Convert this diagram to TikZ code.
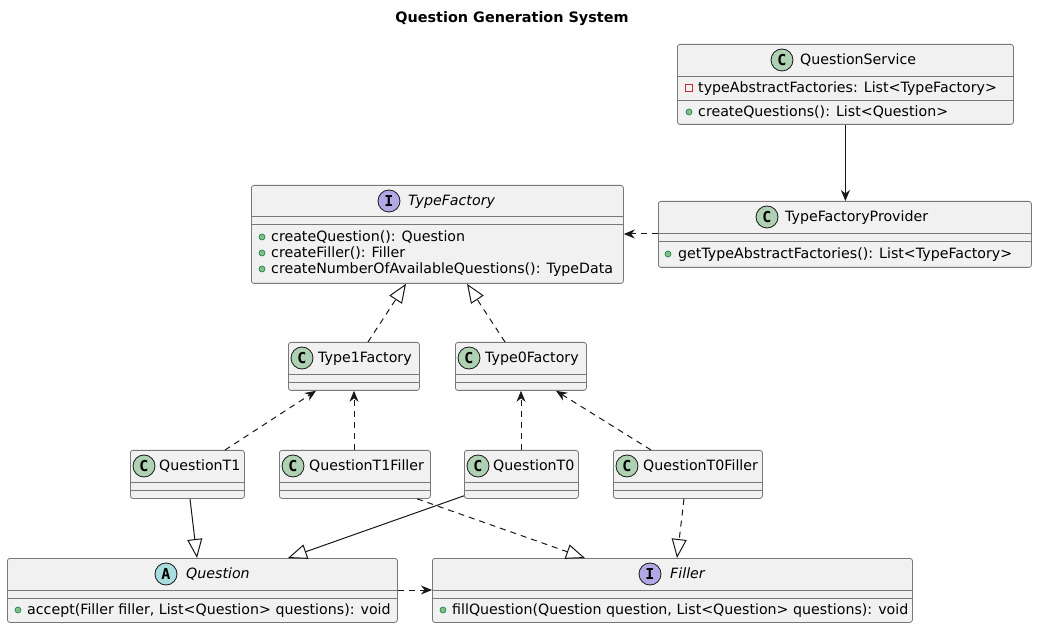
\documentclass[tikz,border=0pt]{standalone}
\usepackage{fontspec}
\setmainfont{DejaVu Sans}
\newfontfamily\iconfont{DejaVu Sans Mono}
\usetikzlibrary{arrows.meta,calc}
\definecolor{boxfill}{HTML}{F1F1F1}
\definecolor{boxline}{HTML}{181818}
\definecolor{sepline}{HTML}{787878}
\definecolor{cgreen}{HTML}{ADD1B2}
\definecolor{ipurple}{HTML}{B4A7E5}
\definecolor{acyan}{HTML}{A9DCDF}
\definecolor{pubfill}{HTML}{84BE84}
\definecolor{publine}{HTML}{038048}
\definecolor{privline}{HTML}{C82930}
\tikzset{
  umlbox/.style={draw=sepline, fill=boxfill, rounded corners=2.5pt, line width=0.8pt, anchor=north west, inner sep=0pt},
  icon/.style={circle, draw=boxline, line width=0.8pt, minimum size=22pt, inner sep=0pt, font=\iconfont\bfseries\fontsize{15}{15}\selectfont},
  cname/.style={anchor=mid west, inner sep=0pt, font=\fontsize{14.2}{17}\selectfont},
  aname/.style={cname, font=\fontsize{14.2}{17}\selectfont\itshape},
  member/.style={anchor=mid west, inner sep=0pt, font=\fontsize{14.2}{17}\selectfont},
  pub/.style={circle, draw=publine, fill=pubfill, line width=0.6pt, minimum size=6pt, inner sep=0pt},
  priv/.style={rectangle, draw=privline, line width=0.8pt, minimum size=7pt, inner sep=0pt},
  sep/.style={draw=sepline, line width=0.8pt},
  conn/.style={draw=boxline, line width=1pt},
  dashconn/.style={conn, dash pattern=on 6pt off 5pt},
  arr/.style={-{Stealth[length=11pt,width=9pt,inset=3.5pt]}},
  inh/.style={-{Triangle[length=19pt,width=15pt,fill=white,line width=1pt]}},
}
\begin{document}
\begin{tikzpicture}[x=1pt,y=-1pt]
\useasboundingbox (0,0) rectangle (1037,628);
\fill[white] (0,0) rectangle (1037,628);

\node[font=\fontsize{14.4}{17}\selectfont\bfseries] (title) at (512,19) {Question Generation System};

% QuestionService
\node[umlbox, minimum width=336pt, minimum height=80pt] (qs) at (677,44) {};
\draw[sep] (677,76) -- (1013,76);
\draw[sep] (677,100) -- (1013,100);
\node[icon, fill=cgreen] (qsi) at (782,60) {C};
\node[cname] (qsn) at (800,62) {QuestionService};
\node[priv] (qsm1) at (689,88) {};
\node[member] (qsa) at (698,90) {typeAbstractFactories: List<TypeFactory>};
\node[pub] (qsm2) at (689,112) {};
\node[member] (qsb) at (698,114) {createQuestions(): List<Question>};

% TypeFactoryProvider
\node[umlbox, minimum width=373pt, minimum height=66pt] (tfp) at (658,201) {};
\draw[sep] (658,233) -- (1031,233);
\draw[sep] (658,241) -- (1031,241);
\node[icon, fill=cgreen] (tfpi) at (767,217) {C};
\node[cname] (tfpn) at (785,219) {TypeFactoryProvider};
\node[pub] (tfpm) at (668,254) {};
\node[member] (tfpa) at (678,256) {getTypeAbstractFactories(): List<TypeFactory>};

% TypeFactory
\node[umlbox, minimum width=372pt, minimum height=98pt] (tf) at (251,185) {};
\draw[sep] (251,216) -- (623,216);
\draw[sep] (251,224) -- (623,224);
\node[icon, fill=ipurple] (tfi) at (389,201) {I};
\node[aname] (tfn) at (408,203) {TypeFactory};
\node[pub] (tfm1) at (262,237) {};
\node[member] (tfa) at (271,239) {createQuestion(): Question};
\node[pub] (tfm2) at (262,253) {};
\node[member] (tfb) at (271,255) {createFiller(): Filler};
\node[pub] (tfm3) at (262,269) {};
\node[member] (tfc) at (271,271) {createNumberOfAvailableQuestions(): TypeData};

% Type1Factory
\node[umlbox, minimum width=131pt, minimum height=48pt] (t1f) at (288,342) {};
\draw[sep] (288,374) -- (419,374);
\draw[sep] (288,382) -- (419,382);
\node[icon, fill=cgreen] (t1fi) at (302,358) {C};
\node[cname] (t1fn) at (318,360) {Type1Factory};

% Type0Factory
\node[umlbox, minimum width=131pt, minimum height=48pt] (t0f) at (455,342) {};
\draw[sep] (455,374) -- (586,374);
\draw[sep] (455,382) -- (586,382);
\node[icon, fill=cgreen] (t0fi) at (469,358) {C};
\node[cname] (t0fn) at (485,360) {Type0Factory};

% QuestionT1
\node[umlbox, minimum width=114pt, minimum height=48pt] (qt1) at (130,450) {};
\draw[sep] (130,482) -- (244,482);
\draw[sep] (130,490) -- (244,490);
\node[icon, fill=cgreen] (qt1i) at (144,466) {C};
\node[cname] (qt1n) at (159,468) {QuestionT1};

% QuestionT1Filler
\node[umlbox, minimum width=151pt, minimum height=48pt] (qt1f) at (279,450) {};
\draw[sep] (279,482) -- (430,482);
\draw[sep] (279,490) -- (430,490);
\node[icon, fill=cgreen] (qt1fi) at (293,466) {C};
\node[cname] (qt1fn) at (309,468) {QuestionT1Filler};

% QuestionT0
\node[umlbox, minimum width=114pt, minimum height=48pt] (qt0) at (464,450) {};
\draw[sep] (464,482) -- (578,482);
\draw[sep] (464,490) -- (578,490);
\node[icon, fill=cgreen] (qt0i) at (478,466) {C};
\node[cname] (qt0n) at (493,468) {QuestionT0};

% QuestionT0Filler
\node[umlbox, minimum width=149pt, minimum height=48pt] (qt0f) at (613,450) {};
\draw[sep] (613,482) -- (762,482);
\draw[sep] (613,490) -- (762,490);
\node[icon, fill=cgreen] (qt0fi) at (627,466) {C};
\node[cname] (qt0fn) at (643,468) {QuestionT0Filler};

% Question
\node[umlbox, minimum width=390pt, minimum height=64pt] (q) at (7,558) {};
\draw[sep] (7,590) -- (397,590);
\draw[sep] (7,598) -- (397,598);
\node[icon, fill=acyan] (qi) at (166,574) {A};
\node[aname] (qn) at (186,576) {Question};
\node[pub] (qm) at (18,610) {};
\node[member] (qa) at (27,612) {accept(Filler filler, List<Question> questions): void};

% Filler
\node[umlbox, minimum width=480pt, minimum height=64pt] (f) at (432,558) {};
\draw[sep] (432,590) -- (912,590);
\draw[sep] (432,598) -- (912,598);
\node[icon, fill=ipurple] (fi) at (650,574) {I};
\node[aname] (fn) at (670,576) {Filler};
\node[pub] (fm) at (443,610) {};
\node[member] (fa) at (452,612) {fillQuestion(Question question, List<Question> questions): void};

% connectors
\coordinate (tfpw) at ($(tfp.north west)+(0,33)$);
\coordinate (qe) at ($(q.north east)+(0,32)$);
\draw[conn, arr] (qs.south) -- (qs.south |- tfp.north);
\draw[dashconn, arr] (tfpw) -- (tf.east |- tfpw);
\draw[dashconn, inh] ([xshift=80pt]t1f.north west) -- ([xshift=155pt]tf.south west);
\draw[dashconn, inh] ([xshift=50pt]t0f.north west) -- ([xshift=216pt]tf.south west);
\draw[dashconn, arr] ([xshift=95pt]qt1.north west) -- ([xshift=28pt]t1f.south west);
\draw[dashconn, arr] ([xshift=75pt]qt1f.north west) -- ([xshift=66pt]t1f.south west);
\draw[dashconn, arr] ([xshift=57pt]qt0.north west) -- ([xshift=66pt]t0f.south west);
\draw[dashconn, arr] ([xshift=38pt]qt0f.north west) -- ([xshift=101pt]t0f.south west);
\draw[conn, inh] ([xshift=60pt]qt1.south west) -- ([xshift=190pt]q.north west);
\draw[conn, inh] ([yshift=3pt]qt0.south west) -- ([xshift=281pt]q.north west);
\draw[dashconn, inh] ([xshift=138pt]qt1f.south west) -- ([xshift=153pt]f.north west);
\draw[dashconn, inh] ([xshift=71pt]qt0f.south west) -- ([xshift=245pt]f.north west);
\draw[dashconn, arr] (qe) -- (f.west |- qe);
\end{tikzpicture}
\end{document}
